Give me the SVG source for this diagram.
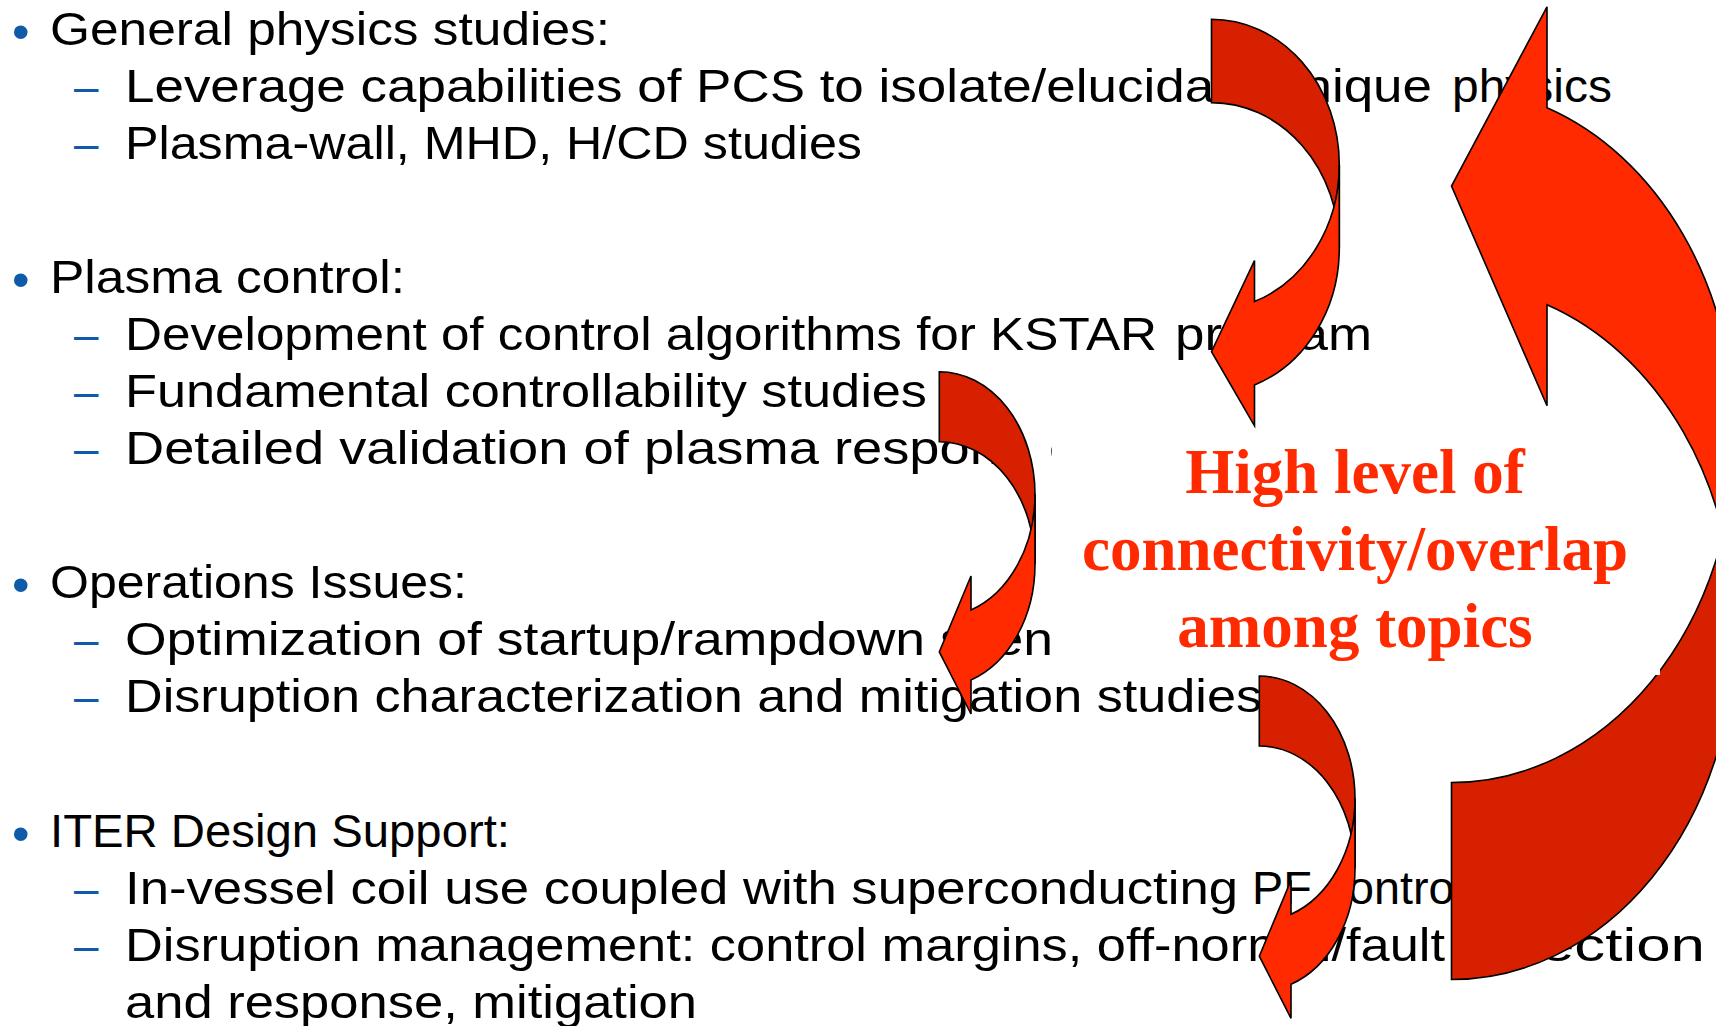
<svg xmlns="http://www.w3.org/2000/svg" xmlns:xlink="http://www.w3.org/1999/xlink" width="1716" height="1026" viewBox="0 0 1716 1026">
<style>
.t{font-family:"Liberation Sans",Arial,sans-serif;font-size:47px;fill:#000}
.bl{font-family:"Liberation Sans",Arial,sans-serif;fill:#0F5BA7}
.bul{font-size:50px}
.dash{font-size:44px}
.red{font-family:"Liberation Serif","Times New Roman",serif;font-weight:bold;font-size:63px;fill:#FF2A00;text-anchor:middle}
.back{fill:#D62000;stroke:#000;stroke-width:1.6;stroke-linejoin:miter}
.front{fill:#FF2A00;stroke:#000;stroke-width:1.6;stroke-linejoin:miter}
</style>
<defs>
<g id="smallArrow">
<path class="back" d="M0,0 A95.7,122.6 0 0 1 95.7,122.6 L95.7,192.6 A95.7,122.6 0 0 0 0,70 Z"/>
<path class="front" d="M95.7,192.6 A95.7,122.6 0 0 1 31.7,308.3 L31.7,342.3 L0,280.2 L31.7,204.3 L31.7,238.3 A95.7,122.6 0 0 0 95.7,122.6 Z"/>
</g>
</defs>
<rect width="1716" height="1026" fill="#fff"/>

<g id="topic-general">
<text class="bl bul" x="12" y="48.5">•</text>
<text class="t" x="50" y="45" textLength="560" lengthAdjust="spacingAndGlyphs">General physics studies:</text>
<text class="bl dash" x="74" y="102">–</text>
<text class="t" y="102"><tspan x="125" textLength="1307" lengthAdjust="spacingAndGlyphs">Leverage capabilities of PCS to isolate/elucidate unique</tspan> <tspan x="1452" textLength="160" lengthAdjust="spacingAndGlyphs">physics</tspan></text>
<text class="bl dash" x="74" y="159">–</text>
<text class="t" x="125" y="159" textLength="737" lengthAdjust="spacingAndGlyphs">Plasma-wall, MHD, H/CD studies</text>
</g>

<g id="topic-control">
<text class="bl bul" x="12" y="296.5">•</text>
<text class="t" x="50" y="293" textLength="355" lengthAdjust="spacingAndGlyphs">Plasma control:</text>
<text class="bl dash" x="74" y="350">–</text>
<text class="t" y="350"><tspan x="125" textLength="1032" lengthAdjust="spacingAndGlyphs">Development of control algorithms for KSTAR</tspan> <tspan x="1175" textLength="197" lengthAdjust="spacingAndGlyphs">program</tspan></text>
<text class="bl dash" x="74" y="407">–</text>
<text class="t" x="125" y="407" textLength="802" lengthAdjust="spacingAndGlyphs">Fundamental controllability studies</text>
<text class="bl dash" x="74" y="464">–</text>
<text class="t" y="464"><tspan x="125" textLength="902" lengthAdjust="spacingAndGlyphs">Detailed validation of plasma respons</tspan><tspan x="1049" textLength="30" lengthAdjust="spacingAndGlyphs">e</tspan></text>
</g>

<g id="topic-operations">
<text class="bl bul" x="12" y="601.5">•</text>
<text class="t" x="50" y="598" textLength="417" lengthAdjust="spacingAndGlyphs">Operations Issues:</text>
<text class="bl dash" x="74" y="655">–</text>
<text class="t" x="125" y="655" textLength="1044" lengthAdjust="spacingAndGlyphs">Optimization of startup/rampdown scenarios</text>
<text class="bl dash" x="74" y="712">–</text>
<text class="t" x="125" y="712" textLength="1137" lengthAdjust="spacingAndGlyphs">Disruption characterization and mitigation studies</text>
</g>

<g id="topic-iter">
<text class="bl bul" x="12" y="850.5">•</text>
<text class="t" x="50" y="847" textLength="460" lengthAdjust="spacingAndGlyphs">ITER Design Support:</text>
<text class="bl dash" x="74" y="904">–</text>
<text class="t" y="904"><tspan x="125" textLength="1113" lengthAdjust="spacingAndGlyphs">In-vessel coil use coupled with superconducting</tspan> <tspan x="1252" textLength="213" lengthAdjust="spacingAndGlyphs">PF control</tspan></text>
<text class="bl dash" x="74" y="961">–</text>
<text class="t" y="961"><tspan x="125" textLength="1320" lengthAdjust="spacingAndGlyphs">Disruption management: control margins, off-normal/fault</tspan> <tspan x="1454" textLength="251" lengthAdjust="spacingAndGlyphs">detection</tspan></text>
<text class="t" x="125" y="1018" textLength="572" lengthAdjust="spacingAndGlyphs">and response, mitigation</text>
</g>

<g id="connectors">
<g id="arrow-big">
<path class="back" d="M1451.5,979.5 A283.5,347.5 0 0 0 1735,632 L1735,435 A283.5,347.5 0 0 1 1451.5,782.5 Z"/>
<path class="front" d="M1735,435 A283.5,347.5 0 0 0 1547,107.8 L1547,6.8 L1451.5,186 L1547,405.8 L1547,304.8 A283.5,347.5 0 0 1 1735,632 Z"/>
</g>
</g>

<g id="callout">
<rect x="1052" y="428" width="608" height="247" fill="#fff"/>
<text class="red" x="1355" y="493">High level of</text>
<text class="red" x="1355" y="570">connectivity/overlap</text>
<text class="red" x="1355" y="647">among topics</text>
</g>

<g id="connectors-small">
<g id="arrow-top">
<path class="back" d="M1211.5,19.3 A127.8,145.4 0 0 1 1339.3,164.7 L1339.3,248 A127.8,145.4 0 0 0 1211.5,102.6 Z"/>
<path class="front" d="M1339.3,248 A127.8,145.4 0 0 1 1254.5,384.9 L1254.5,425.9 L1211.5,351.75 L1254.5,260.6 L1254.5,301.6 A127.8,145.4 0 0 0 1339.3,164.7 Z"/>
</g>
<use id="arrow-middle" xlink:href="#smallArrow" href="#smallArrow" transform="translate(939.3,371.7)"/>
<use id="arrow-bottom" xlink:href="#smallArrow" href="#smallArrow" transform="translate(1259.3,676)"/>
</g>
</svg>
